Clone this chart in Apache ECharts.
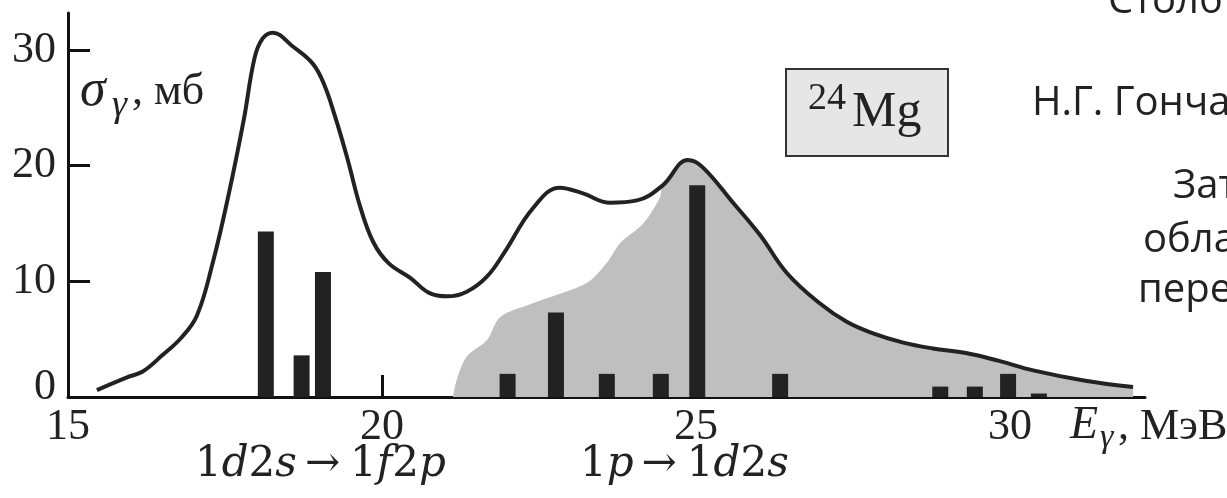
<!DOCTYPE html>
<html>
<head>
<meta charset="utf-8">
<title>24Mg</title>
<script src="https://cdn.jsdelivr.net/npm/echarts@6/dist/echarts.min.js"></script>
<style>
  html, body { margin: 0; padding: 0; background: #fff; }
  #chart { width: 1227px; height: 498px; }
</style>
</head>
<body>
<div id="chart"></div>
<script>
// сечение фотопоглощения, [E, sigma]
var curve = [
    [15.46, 0.6], [15.94, 1.7], [16.19, 2.2], [16.5, 3.6], [16.8, 5.1], [17.05, 7.0],
    [17.3, 11.5], [17.55, 17.3], [17.8, 24.0], [17.97, 29.3], [18.1, 31.0], [18.26, 31.5],
    [18.58, 30.3], [18.9, 28.8], [19.08, 27.0], [19.25, 24.3], [19.45, 20.6], [19.65, 16.5],
    [19.86, 13.4], [20.1, 11.6], [20.45, 10.3], [20.75, 9.0], [21.04, 8.7], [21.35, 9.1],
    [21.67, 10.4], [21.95, 12.5], [22.4, 16.3], [22.83, 18.1], [23.2, 17.6], [23.63, 16.8],
    [24.06, 17.0], [24.47, 18.3], [24.87, 20.5], [25.1, 19.9], [25.59, 16.8], [26.02, 14.0],
    [26.45, 10.7], [26.97, 8.1], [27.4, 6.5], [27.82, 5.5], [28.3, 4.7], [28.77, 4.2],
    [29.3, 3.8], [29.84, 3.1], [30.37, 2.3], [31.2, 1.4], [31.96, 0.86]
];
// левая граница серой области (1p -> 1d2s)
var grayEdge = [
    [21.13, 0], [21.19, 1.5], [21.35, 3.5], [21.67, 4.9], [21.88, 6.9], [22.4, 8.1],
    [23.26, 9.85], [23.58, 11.6], [23.79, 13.3], [24.16, 15.0], [24.43, 17.3]
];
// переходы
var lineE = [18.15, 18.72, 19.06, 22.0, 22.77, 23.58, 24.44, 25.02, 26.34, 28.89, 29.44, 29.97, 30.46];
var lineS = [14.3, 3.6, 10.8, 2.0, 7.3, 2.0, 2.0, 18.3, 2.0, 0.9, 0.9, 2.0, 0.3];
var xTicks = [15, 20, 25, 30];
var yTicks = [0, 10, 20, 30];

var grayArea = grayEdge.concat(curve.filter(function (p) { return p[0] >= 24.47; }));
var bars = lineE.map(function (e, i) { return [e, lineS[i]]; });

var ink = '#222';
var serif = 'Liberation Serif';
var sans = 'Open Sans';

function txt(x, y, s, size, font, italic) {
    return {
        type: 'text', x: x, y: y, silent: true,
        style: {
            text: s, fontSize: size, fontFamily: font, fill: ink,
            fontStyle: italic ? 'italic' : 'normal',
            align: 'left', verticalAlign: 'middle'
        }
    };
}

function formula(x, y, parts) {
    return {
        type: 'text', x: x, y: y, silent: true,
        style: {
            text: parts, fill: ink, align: 'left', verticalAlign: 'middle',
            rich: {
                n: { fontSize: 42, fontFamily: 'DejaVu Serif', fill: ink },
                i: { fontSize: 42, fontFamily: 'DejaVu Serif', fontStyle: 'italic', fill: ink },
                a: { fontSize: 42, fontFamily: 'DejaVu Serif', fill: ink, padding: [0, 10, 0, 8] }
            }
        }
    };
}

var myChart = echarts.init(document.getElementById('chart'));
var option = {
    backgroundColor: '#fff',
    animation: false,
    grid: { left: 68, right: 82, top: 13, bottom: 101, outerBoundsMode: 'none' },
    xAxis: {
        type: 'value', min: 15, max: 32.15, interval: 5,
        splitLine: { show: false },
        axisLine: { lineStyle: { color: '#111', width: 3 } },
        axisTick: { inside: true, length: 22, lineStyle: { color: '#111', width: 3 }, customValues: xTicks },
        axisLabel: { fontSize: 44, fontFamily: serif, color: ink, margin: 8, customValues: xTicks }
    },
    yAxis: {
        type: 'value', min: 0, max: 33.2, interval: 10,
        splitLine: { show: false },
        axisLine: { lineStyle: { color: '#111', width: 3 } },
        axisTick: { inside: true, length: 22, lineStyle: { color: '#111', width: 3 }, customValues: yTicks },
        axisLabel: {
            fontSize: 44, fontFamily: serif, color: ink, margin: 12, customValues: yTicks,
            formatter: function (v) { return v === 0 ? '{z|0}' : String(v); },
            rich: { z: { fontSize: 44, fontFamily: serif, color: ink, padding: [0, 0, 20, 0] } }
        }
    },
    series: [
        {
            type: 'line', data: grayArea, smooth: 0.3,
            showSymbol: false, silent: true, z: 1,
            lineStyle: { width: 0 },
            areaStyle: { color: '#bfbfbf', opacity: 1 }
        },
        {
            type: 'bar', data: bars, barWidth: 16, silent: true, z: 2,
            itemStyle: { color: ink }
        },
        {
            type: 'line', data: curve, smooth: 0.4,
            showSymbol: false, silent: true, z: 3,
            lineStyle: { color: ink, width: 4 }
        }
    ],
    graphic: [
        // подписи осей
        txt(80, 91, 'σ', 52, serif, true),
        txt(112, 106, 'γ', 38, serif, true),
        txt(132, 92, ', мб', 44, serif, false),
        txt(1070, 426, 'E', 46, serif, true),
        txt(1100, 438, 'γ', 34, serif, true),
        txt(1118, 427, ', МэВ', 44, serif, false),
        // рамка 24Mg
        {
            type: 'rect', silent: true,
            shape: { x: 786, y: 69, width: 162, height: 87 },
            style: { fill: '#e6e6e6', stroke: '#333', lineWidth: 2 }
        },
        txt(808, 99, '24', 38, serif, false),
        txt(852, 113, 'Mg', 50, serif, false),
        // переходы под осью
        formula(195, 465, '{n|1}{i|d}{n|2}{i|s}{a|→}{n|1}{i|f}{n|2}{i|p}'),
        formula(580, 465, '{n|1}{i|p}{a|→}{n|1}{i|d}{n|2}{i|s}'),
        // текст слайда справа
        txt(1108, 2, 'Столб', 40, sans, false),
        txt(1032, 104, 'Н.Г. Гончар', 40, sans, false),
        txt(1173, 187, 'Зат', 40, sans, false),
        txt(1143, 241, 'обла', 40, sans, false),
        txt(1138, 291, 'пере', 40, sans, false)
    ]
};
myChart.setOption(option);
</script>
</body>
</html>
